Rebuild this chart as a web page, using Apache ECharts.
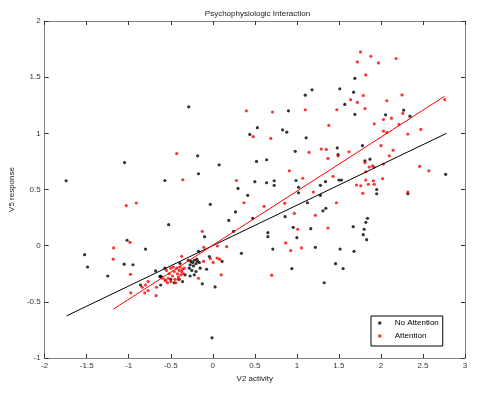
<!DOCTYPE html>
<html>
<head>
<meta charset="utf-8">
<script src="https://cdn.jsdelivr.net/npm/echarts@6/dist/echarts.min.js"></script>
<style>html,body{margin:0;padding:0;background:#fff;}#c{width:483px;height:393px;}</style>
</head>
<body>
<div id="c"></div>
<script>
const titleText = "Psychophysiologic Interaction";
const xName = "V2 activity";
const yName = "V5 response";
const seriesNames = ["No Attention", "Attention"];

const noAttention = [
  [-0.286,1.236],[-1.05,0.74],[-1.745,0.578],[-0.57,0.58],
  [1.18,1.387],[1.10,1.34],[0.90,1.20],[0.53,1.05],[0.83,1.03],[0.88,1.01],[0.44,0.99],[1.11,0.96],
  [-0.18,0.80],[0.98,0.84],[0.075,0.72],[0.52,0.75],[0.64,0.765],[-0.17,0.64],[0.50,0.57],[0.64,0.56],
  [0.73,0.578],[0.73,0.537],[0.99,0.58],[1.28,0.537],[1.34,0.57],[0.30,0.51],[1.02,0.52],
  [1.69,1.49],[1.51,1.396],[1.675,1.366],[1.57,1.257],[2.27,1.206],[1.69,1.168],[2.055,1.165],[2.345,1.153],
  [1.48,0.87],[1.78,0.89],[1.49,0.81],[1.81,0.755],[1.87,0.77],[1.50,0.584],[1.53,0.584],[2.77,0.635],
  [-1.02,0.048],[-0.80,-0.03],[-1.525,-0.08],[-1.49,-0.19],[-1.055,-0.165],[-0.95,-0.17],[-1.25,-0.27],
  [-0.68,-0.225],[-0.62,-0.27],[-0.61,-0.28],[-0.86,-0.35],[-0.62,-0.35],
  [0.415,0.448],[-0.03,0.368],[0.27,0.30],[0.475,0.243],[0.19,0.225],[-0.525,0.187],[0.247,0.128],[-0.098,0.08],
  [0.34,-0.068],[-0.17,-0.05],[-0.04,-0.097],[0.11,-0.14],[-0.39,-0.157],[-0.57,-0.20],[-0.15,-0.20],[-0.074,-0.21],
  [-0.2,-0.23],[-0.27,-0.27],[-0.22,-0.26],[0.027,-0.367],[-0.33,-0.26],[-0.46,-0.33],[-0.125,-0.34],
  [-0.29,-0.13],[-0.26,-0.14],[-0.24,-0.15],[-0.22,-0.13],[-0.2,-0.16],[-0.18,-0.14],[-0.27,-0.17],[-0.23,-0.18],
  [-0.19,-0.12],[-0.16,-0.15],[-0.25,-0.22],[-0.28,-0.2],[-0.4,-0.3],[-0.36,-0.32],[-0.63,-0.275],[-0.5,-0.3],
  [1.02,0.47],[1.28,0.448],[1.126,0.382],[1.345,0.332],[1.31,0.31],[0.86,0.258],[0.956,0.163],[1.165,0.151],
  [1.67,0.169],[0.655,0.116],[0.655,0.08],[1.0,0.071],[0.714,-0.03],[1.22,-0.015],[1.514,-0.03],[1.68,-0.05],
  [0.94,-0.204],[1.46,-0.16],[1.55,-0.204],[1.325,-0.33],
  [1.95,0.50],[1.95,0.462],[2.32,0.462],[1.84,0.243],[1.82,0.208],[1.80,0.146],[1.79,0.098],[1.83,0.053],
  [-0.01,-0.82]
];

const attention = [
  [-0.43,0.82],[-0.357,0.587],
  [0.40,1.20],[0.71,1.19],[1.10,1.21],[1.38,1.07],[0.48,0.97],[0.69,0.955],[1.145,0.83],[1.29,0.86],
  [1.35,0.857],[1.37,0.777],[0.91,0.667],[0.28,0.58],[1.07,0.60],
  [1.757,1.725],[1.88,1.686],[1.72,1.636],[1.97,1.627],[2.18,1.666],[1.82,1.52],[1.79,1.337],[2.25,1.342],
  [1.64,1.30],[1.72,1.275],[2.07,1.29],[1.475,1.21],[1.81,1.22],[2.26,1.177],[2.125,1.135],[2.03,1.123],
  [2.76,1.30],[1.92,1.085],[2.215,1.08],[2.03,1.02],[2.07,1.008],[2.32,0.993],[2.475,1.035],[2.0,0.89],
  [1.62,0.836],[2.145,0.85],[1.49,0.80],[2.10,0.80],[1.81,0.74],[1.86,0.70],[1.90,0.71],[1.92,0.70],
  [2.03,0.726],[2.46,0.706],[2.57,0.667],[1.43,0.617],[1.82,0.658],[1.82,0.584],[1.91,0.578],[2.02,0.596],
  [1.71,0.54],[1.76,0.533],[1.85,0.546],[1.92,0.546],
  [-1.03,0.356],[-0.91,0.38],[-0.985,0.03],[-1.18,-0.02],[-1.185,-0.12],[-0.98,-0.255],[-0.84,-0.37],
  [-0.80,-0.35],[-0.77,-0.32],[-0.77,-0.40],[-0.81,-0.42],[-0.976,-0.42],[-0.67,-0.37],[-0.675,-0.445],
  [-0.60,-0.29],[-0.57,-0.305],[-0.54,-0.33],
  [0.37,0.382],[-0.125,0.128],[-0.106,-0.015],[0.055,-0.003],[0.165,-0.009],[-0.37,-0.095],[-0.03,-0.115],
  [0.08,-0.12],[-0.11,-0.14],[0.004,-0.148],[-0.17,-0.29],[0.10,-0.26],[0.05,-0.11],
  [-0.55,-0.22],[-0.52,-0.25],[-0.5,-0.2],[-0.48,-0.27],[-0.46,-0.23],[-0.45,-0.3],[-0.43,-0.2],[-0.42,-0.25],
  [-0.41,-0.28],[-0.4,-0.22],[-0.39,-0.19],[-0.38,-0.26],[-0.37,-0.23],[-0.36,-0.21],[-0.35,-0.25],[-0.44,-0.33],
  [-0.5,-0.32],[-0.53,-0.29],[-0.47,-0.19],[-0.56,-0.31],[-0.34,-0.2],[-0.41,-0.3],
  [1.196,0.477],[0.61,0.35],[0.855,0.377],[1.47,0.382],[0.97,0.288],[1.22,0.27],[1.01,0.146],[1.37,0.157],
  [0.867,0.024],[0.926,-0.044],[1.055,-0.02],[0.70,-0.263],
  [1.785,0.466],[2.32,0.477]
];

const fitNoAttention = [[-1.74,-0.625],[2.78,1.0]];
const fitAttention = [[-1.185,-0.566],[2.757,1.33]];

const xMin = -2, xMax = 3, xStep = 0.5;
const yMin = -1, yMax = 2, yStep = 0.5;

const axisCol = '#808080';
const font = 'Liberation Sans, Arial, Helvetica, sans-serif';

const chart = echarts.init(document.getElementById('c'), null, {renderer: 'canvas'});

function axisBase(extra) {
  return Object.assign({
    type: 'value',
    splitLine: {show: false},
    axisLine: {show: true, onZero: false, lineStyle: {color: axisCol, width: 1}},
    axisTick: {show: true, inside: true, length: 4, lineStyle: {color: '#333'}},
    axisLabel: {color: '#333', fontSize: 8, fontFamily: font}
  }, extra);
}

chart.setOption({
  animation: false,
  backgroundColor: '#fff',
  title: {
    text: titleText,
    left: 252.5,
    textAlign: 'center',
    top: 5,
    textStyle: {fontSize: 8, fontWeight: 'normal', color: '#222', fontFamily: font}
  },
  grid: {left: 40, right: 18, top: 21, bottom: 35, containLabel: false},
  legend: {
    data: seriesNames,
    orient: 'vertical',
    left: 371,
    top: 316,
    padding: [2, 4, 5, 7],
    itemWidth: 20,
    itemHeight: 3.5,
    itemGap: 3,
    icon: 'circle',
    backgroundColor: '#fff',
    borderColor: '#000',
    borderWidth: 1,
    borderRadius: 0,
    textStyle: {fontSize: 8, color: '#000', fontFamily: font, lineHeight: 10, padding: [0,0,0,0]}
  },
  xAxis: [
    axisBase({min: xMin, max: xMax, interval: xStep, position: 'bottom',
      name: xName, nameLocation: 'middle', nameGap: 11,
      nameTextStyle: {fontSize: 8, color: '#222', fontFamily: font},
      axisLabel: {color: '#333', fontSize: 8, fontFamily: font, margin: 4}}),
    axisBase({min: xMin, max: xMax, interval: xStep, position: 'top', axisLabel: {show: false}})
  ],
  yAxis: [
    axisBase({min: yMin, max: yMax, interval: yStep, position: 'left',
      name: yName, nameLocation: 'middle', nameGap: 20,
      nameTextStyle: {fontSize: 8, color: '#222', fontFamily: font},
      axisLabel: {color: '#333', fontSize: 8, fontFamily: font, margin: 4}}),
    axisBase({min: yMin, max: yMax, interval: yStep, position: 'right', axisLabel: {show: false}})
  ],
  series: [
    {name: seriesNames[0], type: 'scatter', data: noAttention, symbol: 'circle', symbolSize: 3.2,
      itemStyle: {color: '#000'}, xAxisIndex: 0, yAxisIndex: 0},
    {name: seriesNames[1], type: 'scatter', data: attention, symbol: 'circle', symbolSize: 3.2,
      itemStyle: {color: '#ff0000'}, xAxisIndex: 0, yAxisIndex: 0},
    {name: 'fitNo', type: 'line', data: fitNoAttention, showSymbol: false, symbol: 'none',
      lineStyle: {color: '#000', width: 1}, xAxisIndex: 0, yAxisIndex: 0, z: 3},
    {name: 'fitAtt', type: 'line', data: fitAttention, showSymbol: false, symbol: 'none',
      lineStyle: {color: '#ff0000', width: 1}, xAxisIndex: 0, yAxisIndex: 0, z: 3}
  ]
});
</script>
</body>
</html>
